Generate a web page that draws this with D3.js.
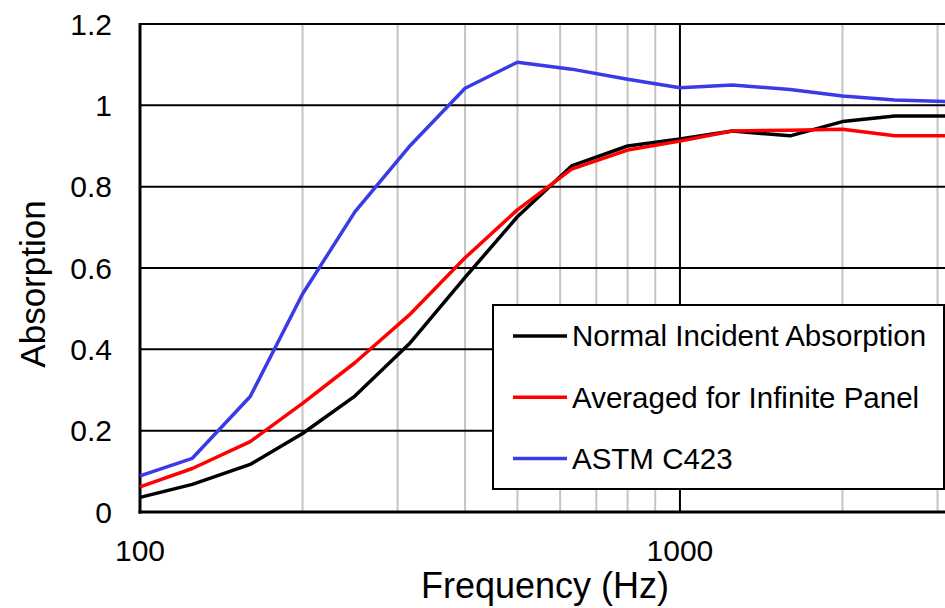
<!DOCTYPE html>
<html>
<head>
<meta charset="utf-8">
<script src="https://cdn.jsdelivr.net/npm/d3@7"></script>
<style>
  body { margin: 0; background: #fff; }
  svg { display: block; font-family: "Liberation Sans", Arial, sans-serif; }
</style>
</head>
<body>
<svg class="chart"></svg>
<script>
// 1/3-octave band centre frequencies (Hz)
let freqs = [100, 125, 160, 200, 250, 315, 400, 500, 630, 800, 1000, 1250, 1600, 2000, 2500, 3150];

let normal = [0.036, 0.068, 0.117, 0.193, 0.285, 0.413, 0.577, 0.726, 0.851, 0.900, 0.917, 0.937, 0.925, 0.960, 0.974, 0.974];
let averaged = [0.062, 0.107, 0.173, 0.267, 0.367, 0.484, 0.625, 0.743, 0.843, 0.890, 0.912, 0.937, 0.939, 0.941, 0.925, 0.925];
let astm = [0.089, 0.132, 0.284, 0.536, 0.738, 0.898, 1.042, 1.106, 1.089, 1.064, 1.043, 1.050, 1.039, 1.023, 1.013, 1.009];

let series_names = ["Normal Incident Absorption", "Averaged for Infinite Panel", "ASTM C423"];
let series_colors = ["#000000", "#ff0000", "#3a3ae6"];

let y_ticks = [0, 0.2, 0.4, 0.6, 0.8, 1, 1.2];
let x_labels = [100, 1000];
let x_minor = [200, 300, 400, 500, 600, 700, 800, 900, 2000, 3000];

let w = 945;
let h = 608;

let svg = d3.select("svg.chart")
    .attr("width", w)
    .attr("height", h);

let left = 140;
let right = 949;
let top_y = 24;
let bottom_y = 512;

let x = d3.scaleLog()
    .domain([100, 3150])
    .range([left, right]);

let y = d3.scaleLinear()
    .domain([0, 1.2])
    .range([bottom_y, top_y]);

// minor vertical gridlines
svg.append("g")
    .selectAll("line")
    .data(x_minor)
    .enter()
    .append("line")
    .attr("x1", d => x(d))
    .attr("x2", d => x(d))
    .attr("y1", top_y)
    .attr("y2", bottom_y)
    .attr("stroke", "#c4c4c4")
    .attr("stroke-width", 2);

// major vertical gridline at 1000
svg.append("line")
    .attr("x1", x(1000))
    .attr("x2", x(1000))
    .attr("y1", top_y)
    .attr("y2", bottom_y)
    .attr("stroke", "#000")
    .attr("stroke-width", 2);

// horizontal gridlines
svg.append("g")
    .selectAll("line")
    .data(y_ticks.filter(d => d > 0))
    .enter()
    .append("line")
    .attr("x1", left)
    .attr("x2", right)
    .attr("y1", d => y(d))
    .attr("y2", d => y(d))
    .attr("stroke", "#000")
    .attr("stroke-width", 2);

// axes lines
svg.append("line")
    .attr("x1", left).attr("x2", left)
    .attr("y1", top_y - 1).attr("y2", bottom_y + 1.5)
    .attr("stroke", "#000").attr("stroke-width", 3);

svg.append("line")
    .attr("x1", left - 1.5).attr("x2", right)
    .attr("y1", bottom_y).attr("y2", bottom_y)
    .attr("stroke", "#000").attr("stroke-width", 3);

// y tick labels
svg.append("g")
    .selectAll("text")
    .data(y_ticks)
    .enter()
    .append("text")
    .attr("x", 112)
    .attr("y", d => y(d))
    .attr("dy", "0.35em")
    .attr("text-anchor", "end")
    .attr("font-size", "30px")
    .attr("fill", "#000")
    .text(d => d);

// x tick labels
svg.append("g")
    .selectAll("text")
    .data(x_labels)
    .enter()
    .append("text")
    .attr("x", d => x(d))
    .attr("y", 561)
    .attr("text-anchor", "middle")
    .attr("font-size", "30px")
    .attr("fill", "#000")
    .text(d => d);

// axis titles
svg.append("text")
    .attr("x", 545)
    .attr("y", 598)
    .attr("text-anchor", "middle")
    .attr("font-size", "36px")
    .text("Frequency (Hz)");

svg.append("text")
    .attr("transform", "translate(45, 284) rotate(-90)")
    .attr("text-anchor", "middle")
    .attr("font-size", "35px")
    .text("Absorption");

// data lines
let line = d3.line()
    .x((d, i) => x(freqs[i]))
    .y(d => y(d));

let all_series = [normal, averaged, astm];

svg.append("g")
    .selectAll("path")
    .data(all_series)
    .enter()
    .append("path")
    .attr("d", d => line(d))
    .attr("fill", "none")
    .attr("stroke", (d, i) => series_colors[i])
    .attr("stroke-width", 3.5)
    .attr("stroke-linejoin", "round");

// legend
let legend = svg.append("g")
    .attr("transform", "translate(493, 305)");

legend.append("rect")
    .attr("width", 451)
    .attr("height", 184)
    .attr("fill", "#fff")
    .attr("stroke", "#000")
    .attr("stroke-width", 2);

let rows = legend.selectAll("g.row")
    .data(series_names)
    .enter()
    .append("g")
    .attr("class", "row")
    .attr("transform", (d, i) => "translate(0," + (31 + i * 61.2) + ")");

rows.append("line")
    .attr("x1", 20)
    .attr("x2", 74)
    .attr("stroke", (d, i) => series_colors[i])
    .attr("stroke-width", 3.5);

rows.append("text")
    .attr("x", 79)
    .attr("dy", "0.35em")
    .attr("font-size", "29.5px")
    .text(d => d);
</script>
</body>
</html>
